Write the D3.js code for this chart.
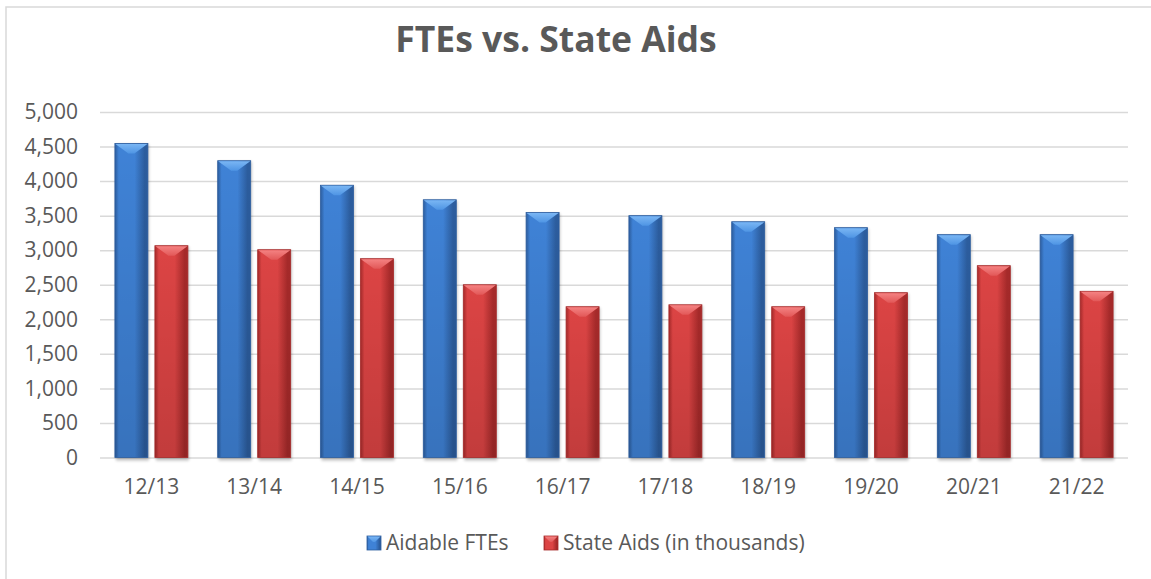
<!DOCTYPE html>
<html>
<head>
<meta charset="utf-8">
<script src="https://cdn.jsdelivr.net/npm/d3@7"></script>
<style>
  body { margin: 0; background: #fff; }
  svg { display: block; }
</style>
</head>
<body>
<div id="vis"></div>
<script>
// Data
const YEARS = ["12/13", "13/14", "14/15", "15/16", "16/17", "17/18", "18/19", "19/20", "20/21", "21/22"];
const FTES = [4545, 4295, 3940, 3730, 3545, 3500, 3412, 3326, 3225, 3225];
const STATE_AIDS = [3065, 3007, 2877, 2500, 2182, 2210, 2182, 2385, 2776, 2405];
const SERIES = ["Aidable FTEs", "State Aids (in thousands)"];
const Y_TICKS = [0, 500, 1000, 1500, 2000, 2500, 3000, 3500, 4000, 4500, 5000];

// Frame
const FRAME_WIDTH = 1151;
const FRAME_HEIGHT = 579;
const MARGINS = { left: 100, right: 23, top: 112, bottom: 121.5 };
const TEXT_COLOR = "#595959";
const FONT = "'Open Sans', 'Liberation Sans', sans-serif";
const LABEL_SIZE = 21;

const FRAME = d3.select("#vis")
    .append("svg")
    .attr("width", FRAME_WIDTH)
    .attr("height", FRAME_HEIGHT);

// chart border (runs off the right and bottom of the picture)
FRAME.append("rect")
    .attr("x", 6).attr("y", 7)
    .attr("width", FRAME_WIDTH + 10).attr("height", FRAME_HEIGHT + 10)
    .attr("fill", "#fff")
    .attr("stroke", "#d9d9d9")
    .attr("stroke-width", 1.5);

// gradients for the bevelled bars
const defs = FRAME.append("defs");
const COLORS = {
    blue: { edge: "#2c5d9e", mid: "#3f82d6", top: "#7ab6f4", topEdge: "#4f95e4" },
    red: { edge: "#a62a2a", mid: "#dc4444", top: "#f48282", topEdge: "#e25858" }
};
Object.keys(COLORS).forEach((k) => {
    const c = COLORS[k];
    const g = defs.append("linearGradient").attr("id", "body-" + k)
        .attr("x1", 0).attr("x2", 1).attr("y1", 0).attr("y2", 0);
    g.append("stop").attr("offset", "0%").attr("stop-color", c.edge);
    g.append("stop").attr("offset", "12%").attr("stop-color", c.mid);
    g.append("stop").attr("offset", "60%").attr("stop-color", c.mid);
    g.append("stop").attr("offset", "90%").attr("stop-color", c.edge);
    g.append("stop").attr("offset", "100%").attr("stop-color", c.edge);

    const t = defs.append("linearGradient").attr("id", "top-" + k)
        .attr("x1", 0).attr("x2", 0).attr("y1", 0).attr("y2", 1);
    t.append("stop").attr("offset", "0%").attr("stop-color", c.top);
    t.append("stop").attr("offset", "100%").attr("stop-color", c.topEdge);
});
const shade = defs.append("linearGradient").attr("id", "shade")
    .attr("x1", 0).attr("x2", 0).attr("y1", 0).attr("y2", 1);
shade.append("stop").attr("offset", "0%").attr("stop-color", "#000").attr("stop-opacity", 0);
shade.append("stop").attr("offset", "100%").attr("stop-color", "#000").attr("stop-opacity", 0.12);

const blur = defs.append("filter").attr("id", "shadow")
    .attr("x", "-20%").attr("y", "-5%").attr("width", "140%").attr("height", "115%");
blur.append("feGaussianBlur").attr("stdDeviation", 1.5);

// Title
FRAME.append("text")
    .attr("x", 556).attr("y", 52)
    .attr("text-anchor", "middle")
    .attr("font-family", FONT)
    .attr("font-weight", "bold")
    .attr("font-size", 35.5)
    .attr("fill", TEXT_COLOR)
    .text("FTEs vs. State Aids");

// Scales
const X_SCALE = d3.scaleBand()
    .domain(YEARS)
    .range([MARGINS.left, FRAME_WIDTH - MARGINS.right]);

const SUB_SCALE = d3.scaleBand()
    .domain(SERIES)
    .range([X_SCALE.bandwidth() / 2 - 36.5, X_SCALE.bandwidth() / 2 + 36.5])
    .paddingInner(0.175);

const Y_SCALE = d3.scaleLinear()
    .domain([0, 5000])
    .range([FRAME_HEIGHT - MARGINS.bottom, MARGINS.top]);

// Y axis with gridlines
const yAxis = FRAME.append("g")
    .attr("transform", "translate(" + MARGINS.left + ",0)")
    .call(d3.axisLeft(Y_SCALE)
        .tickValues(Y_TICKS)
        .tickFormat(d3.format(","))
        .tickSize(-(FRAME_WIDTH - MARGINS.left - MARGINS.right))
        .tickPadding(22));
yAxis.select(".domain").remove();
yAxis.selectAll("line").attr("stroke", "#d9d9d9").attr("stroke-width", 1.5);
yAxis.selectAll("text")
    .attr("font-family", FONT)
    .attr("font-size", LABEL_SIZE)
    .attr("fill", TEXT_COLOR);

// X axis
const xAxis = FRAME.append("g")
    .attr("transform", "translate(0," + (FRAME_HEIGHT - MARGINS.bottom) + ")")
    .call(d3.axisBottom(X_SCALE).tickSize(0).tickPadding(22));
xAxis.select(".domain").remove();
xAxis.selectAll("text")
    .attr("font-family", FONT)
    .attr("font-size", LABEL_SIZE)
    .attr("fill", TEXT_COLOR);

// Bars
const rows = YEARS.map((y, i) => ({ year: y, values: [
    { key: SERIES[0], value: FTES[i], color: "blue" },
    { key: SERIES[1], value: STATE_AIDS[i], color: "red" }
]}));

const groups = FRAME.selectAll(".group")
    .data(rows)
    .enter()
    .append("g")
    .attr("class", "group")
    .attr("transform", (d) => "translate(" + X_SCALE(d.year) + ",0)");

const bars = groups.selectAll(".bar")
    .data((d) => d.values)
    .enter()
    .append("g")
    .attr("class", "bar");

const bw = SUB_SCALE.bandwidth();
const bevel = 10;

// soft shadow
bars.append("rect")
    .attr("x", (d) => SUB_SCALE(d.key) + 1)
    .attr("y", (d) => Y_SCALE(d.value) + 1)
    .attr("width", bw)
    .attr("height", (d) => Y_SCALE(0) - Y_SCALE(d.value) + 2)
    .attr("fill", "#000")
    .attr("opacity", 0.25)
    .attr("filter", "url(#shadow)");

bars.append("rect")
    .attr("x", (d) => SUB_SCALE(d.key))
    .attr("y", (d) => Y_SCALE(d.value))
    .attr("width", bw)
    .attr("height", (d) => Y_SCALE(0) - Y_SCALE(d.value))
    .attr("fill", (d) => "url(#body-" + d.color + ")");

bars.append("rect")
    .attr("x", (d) => SUB_SCALE(d.key))
    .attr("y", (d) => Y_SCALE(d.value))
    .attr("width", bw)
    .attr("height", (d) => Y_SCALE(0) - Y_SCALE(d.value))
    .attr("fill", "url(#shade)")
    .attr("stroke", (d) => COLORS[d.color].edge)
    .attr("stroke-width", 0.8);

// top bevel
bars.append("polygon")
    .attr("points", (d) => {
        const x0 = SUB_SCALE(d.key), y0 = Y_SCALE(d.value);
        return [[x0 + 0.5, y0 + 0.5], [x0 + bw - 0.5, y0 + 0.5], [x0 + bw / 2 + 3, y0 + bevel], [x0 + bw / 2 - 3, y0 + bevel]]
            .map((p) => p.join(",")).join(" ");
    })
    .attr("fill", (d) => "url(#top-" + d.color + ")");

// Legend
const LEGEND = [
    { key: SERIES[0], color: "blue", x: 367 },
    { key: SERIES[1], color: "red", x: 544 }
];
const legend = FRAME.selectAll(".legend")
    .data(LEGEND)
    .enter()
    .append("g")
    .attr("class", "legend")
    .attr("transform", (d) => "translate(" + d.x + ",536)");

legend.append("rect")
    .attr("width", 14).attr("height", 14)
    .attr("fill", (d) => "url(#body-" + d.color + ")")
    .attr("stroke", (d) => COLORS[d.color].edge)
    .attr("stroke-width", 0.8);
legend.append("polygon")
    .attr("points", "0.5,0.5 13.5,0.5 8,6 6,6")
    .attr("fill", (d) => "url(#top-" + d.color + ")");
legend.append("text")
    .attr("x", 19).attr("y", 13.5)
    .attr("font-family", FONT)
    .attr("font-size", LABEL_SIZE)
    .attr("fill", TEXT_COLOR)
    .text((d) => d.key);
</script>
</body>
</html>
